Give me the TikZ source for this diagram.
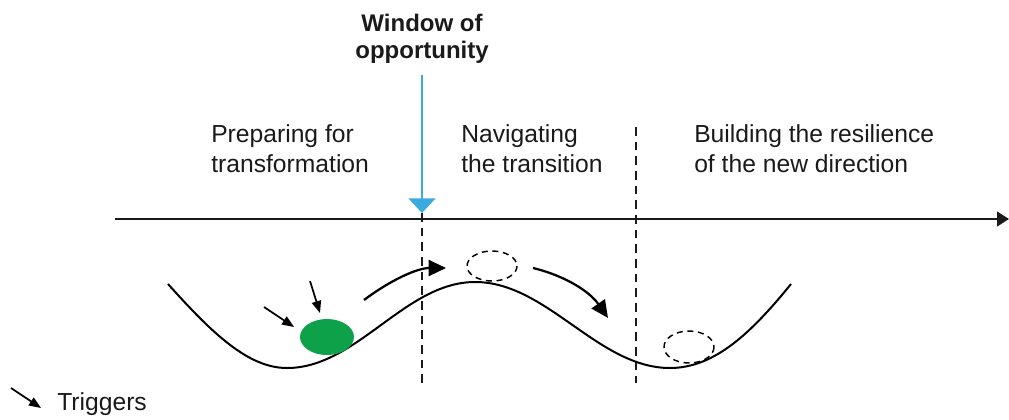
\documentclass[tikz,border=0pt]{standalone}
\usepackage{fontspec}
\setmainfont{Liberation Sans}
\usetikzlibrary{arrows.meta}
\definecolor{wblue}{HTML}{3AAAE1}
\definecolor{ballgreen}{HTML}{0DA24A}
\definecolor{ink}{HTML}{1A1A1A}
\begin{document}
\begin{tikzpicture}[x=0.75pt,y=-0.75pt,
  lbl/.style={font=\fontsize{18.5}{22.5}\selectfont, text=ink, inner sep=0pt, align=left, anchor=base west},
  ttl/.style={font=\bfseries\fontsize{18}{20}\selectfont, text=ink, inner sep=0pt, align=center, anchor=base},
  axisline/.style={line width=1.8pt, ink, -{Triangle[length=9pt,width=11pt]}},
  divider/.style={line width=1.5pt, ink, dash pattern=on 6.5pt off 4.5pt},
  landscape/.style={line width=1.5pt, black},
  movearrow/.style={line width=1.7pt, black, -{Triangle[length=13pt,width=12pt]}},
  trigarrow/.style={line width=1.3pt, black, -{Triangle[length=9pt,width=7pt]}},
  ghost/.style={line width=1.1pt, black, dash pattern=on 4.5pt off 3.5pt}]
\useasboundingbox (0,0) rectangle (1009,419);

% title and window arrow
\node[ttl] (title) at (422,58) {Window of\\opportunity};
\coordinate (wtop) at (422,75);
\coordinate (wtip) at (422,213);
\draw[line width=2.2pt, wblue, -{Triangle[length=11pt,width=20pt]}] (wtop) -- (wtip);

% phase labels
\node[lbl] (prep) at (211,172) {Preparing for\\transformation};
\node[lbl] (nav) at (461,172) {Navigating\\the transition};
\node[lbl] (build) at (694,172) {Building the resilience\\of the new direction};

% time axis
\coordinate (axL) at (115,219);
\coordinate (axR) at (1009,219);
\draw[axisline] (axL) -- (axR);

% dividers
\coordinate (d1t) at (422,213);
\coordinate (d1b) at (422,383);
\coordinate (d2t) at (636,127);
\coordinate (d2b) at (636,383);
\draw[divider] (d1t) -- (d1b);
\draw[divider] (d2t) -- (d2b);

% landscape curve
\draw[landscape] (168,284) .. controls (212,333) and (248,368) .. (287,368)
  .. controls (357,368) and (405,282) .. (475,282)
  .. controls (547,282) and (598,368) .. (670,368)
  .. controls (715,368) and (752,332) .. (791,284);

% balls
\fill[ballgreen] (327,337) ellipse [x radius=27, y radius=18];
\draw[ghost] (492,266) ellipse [x radius=25, y radius=15];
\draw[ghost] (689,347) ellipse [x radius=25, y radius=16];

% trigger arrows
\coordinate (t1s) at (264,307);
\coordinate (t1e) at (294,327);
\coordinate (t2s) at (310,281);
\coordinate (t2e) at (320,313);
\draw[trigarrow] (t1s) -- (t1e);
\draw[trigarrow] (t2s) -- (t2e);

% movement arrows
\coordinate (m1s) at (364,300);
\coordinate (m1e) at (446,268);
\coordinate (m2s) at (533,268);
\coordinate (m2e) at (608,318);
\draw[movearrow] (m1s) .. controls (392,279) and (418,268) .. (m1e);
\draw[movearrow] (m2s) .. controls (566,276) and (590,292) .. (m2e);

% legend
\coordinate (lgs) at (11,388);
\coordinate (lge) at (41,408);
\draw[trigarrow] (lgs) -- (lge);
\node[lbl] (trig) at (57,410) {Triggers};
\end{tikzpicture}
\end{document}
